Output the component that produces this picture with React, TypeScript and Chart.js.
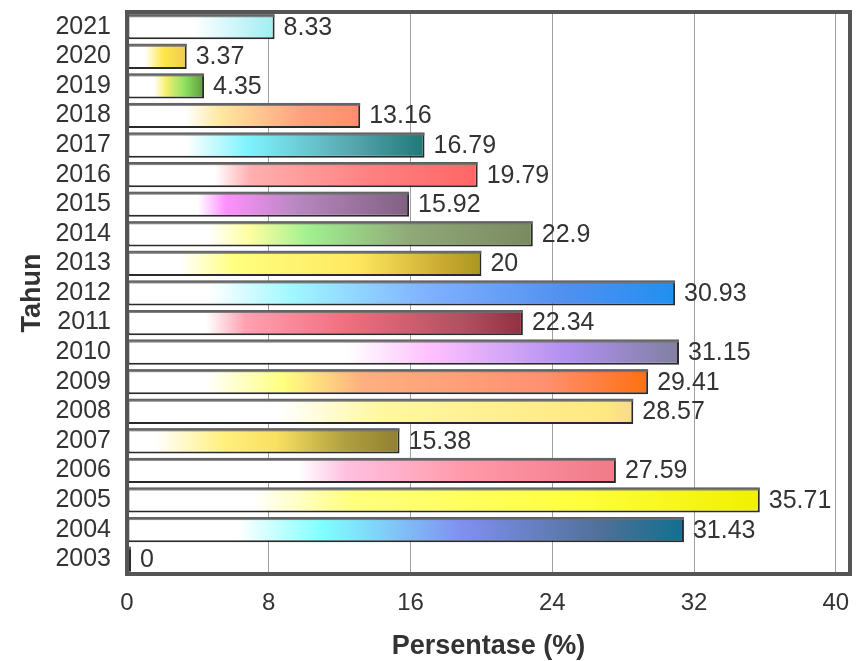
import { useEffect, useRef } from 'react';
import { Chart, registerables } from 'chart.js';

Chart.register(...registerables);

// ---- Data ----
const years = ['2003', '2004', '2005', '2006', '2007', '2008', '2009', '2010', '2011', '2012', '2013', '2014', '2015', '2016', '2017', '2018', '2019', '2020', '2021'];
const percentages = [0, 31.43, 35.71, 27.59, 15.38, 28.57, 29.41, 31.15, 22.34, 30.93, 20, 22.9, 15.92, 19.79, 16.79, 13.16, 4.35, 3.37, 8.33];
const xTickValues = [0, 8, 16, 24, 32, 40];
const xTitle = 'Persentase (%)';
const yTitle = 'Tahun';

// ---- Styles (gradient colour stops per bar, same order as years) ----
const barGradients: [number, string][][] = [
  [[0, '#777777'], [1, '#777777']],
  [[0, '#ffffff'], [0.2, '#ffffff'], [0.35, '#80ffff'], [0.6, '#8090f0'], [0.85, '#507098'], [1, '#107090']],
  [[0, '#ffffff'], [0.2, '#ffffff'], [0.35, '#ffff80'], [0.7, '#ffff40'], [1, '#f0f000']],
  [[0, '#ffffff'], [0.35, '#ffffff'], [0.45, '#ffc0e0'], [0.7, '#ff98a8'], [1, '#f07a88']],
  [[0, '#ffffff'], [0.1, '#ffffff'], [0.35, '#fff080'], [0.55, '#f8e060'], [0.8, '#b0a040'], [1, '#908030']],
  [[0, '#ffffff'], [0.3, '#ffffff'], [0.5, '#fff8a0'], [0.95, '#ffe880'], [1, '#f8d890']],
  [[0, '#ffffff'], [0.15, '#ffffff'], [0.3, '#ffff80'], [0.45, '#ffb080'], [0.8, '#ff9070'], [1, '#ff7010']],
  [[0, '#ffffff'], [0.4, '#ffffff'], [0.55, '#ffc0ff'], [0.8, '#b090f0'], [1, '#8080a0']],
  [[0, '#ffffff'], [0.2, '#ffffff'], [0.3, '#ffa0b0'], [0.55, '#f07080'], [0.85, '#b05060'], [1, '#903040']],
  [[0, '#ffffff'], [0.15, '#ffffff'], [0.3, '#a0f8ff'], [0.55, '#80b0ff'], [0.8, '#5090f0'], [1, '#2090f0']],
  [[0, '#ffffff'], [0.15, '#ffffff'], [0.3, '#ffff80'], [0.65, '#ffe860'], [0.9, '#c8a830'], [1, '#a89820']],
  [[0, '#ffffff'], [0.2, '#ffffff'], [0.3, '#ffffa0'], [0.45, '#a0f090'], [0.7, '#90a878'], [1, '#7a8a60']],
  [[0, '#ffffff'], [0.25, '#ffffff'], [0.35, '#ff90ff'], [0.6, '#b888c0'], [1, '#806080']],
  [[0, '#ffffff'], [0.25, '#ffffff'], [0.35, '#ffb0b0'], [0.7, '#ff8080'], [1, '#ff6666']],
  [[0, '#ffffff'], [0.2, '#ffffff'], [0.4, '#80f4ff'], [0.75, '#58a8b0'], [1, '#207878']],
  [[0, '#ffffff'], [0.25, '#ffffff'], [0.4, '#ffe8a0'], [0.75, '#ffa080'], [1, '#ff8c6c']],
  [[0, '#ffffff'], [0.35, '#ffffff'], [0.5, '#f8f070'], [0.75, '#8ee060'], [1, '#5c9a3c']],
  [[0, '#ffffff'], [0.3, '#ffffff'], [0.6, '#ffe84a'], [1, '#f0c850']],
  [[0, '#ffffff'], [0.45, '#ffffff'], [1, '#9eeef2']],
];

const FONT = "'Liberation Sans', Arial, sans-serif";
const TEXT = '#333333';

const framePlugin = {
  id: 'frame',
  afterDraw(chart: any) {
    const { ctx, chartArea } = chart;
    ctx.save();
    ctx.strokeStyle = '#555555';
    ctx.lineWidth = 4;
    ctx.strokeRect(chartArea.left, chartArea.top, chartArea.right - chartArea.left, chartArea.bottom - chartArea.top);
    ctx.restore();
  },
};

const barDecorPlugin = {
  id: 'barDecor',
  afterDatasetsDraw(chart: any) {
    const { ctx } = chart;
    const meta = chart.getDatasetMeta(0);
    ctx.save();
    meta.data.forEach((el: any, i: number) => {
      const p = el.getProps(['x', 'y', 'base', 'height'], true);
      const left = Math.min(p.base, p.x);
      const w = Math.abs(p.x - p.base);
      // grey bevel on top of each bar
      ctx.fillStyle = 'rgba(110,110,110,0.85)';
      ctx.fillRect(left, p.y - p.height / 2, w, 3);
      // value label
      ctx.fillStyle = TEXT;
      ctx.font = `25px ${FONT}`;
      ctx.textAlign = 'left';
      ctx.textBaseline = 'middle';
      ctx.fillText(String(percentages[i]), p.x + 9, p.y + 1);
    });
    ctx.restore();
  },
};

export default function App() {
  const canvasRef = useRef<HTMLCanvasElement | null>(null);

  useEffect(() => {
    document.body.style.margin = '0';
    const canvas = canvasRef.current;
    if (!canvas) return;
    const chart = new Chart(canvas, {
      type: 'bar',
      data: {
        labels: years,
        datasets: [
          {
            data: percentages,
            backgroundColor: (c: any) => {
              const ch = c.chart;
              const i = c.dataIndex;
              const stops = barGradients[i] || [[0, '#888'], [1, '#888']];
              if (!ch.chartArea || i === undefined) return stops[stops.length - 1][1];
              const x0 = ch.scales.x.getPixelForValue(0);
              const x1 = ch.scales.x.getPixelForValue(percentages[i]);
              if (x1 - x0 < 1) return stops[stops.length - 1][1];
              const g = ch.ctx.createLinearGradient(x0, 0, x1, 0);
              stops.forEach(([pos, col]) => g.addColorStop(pos, col));
              return g;
            },
            borderColor: '#2a2a2a',
            borderWidth: 2,
            borderSkipped: false,
            minBarLength: 4,
            barPercentage: 0.85,
            categoryPercentage: 1,
          },
        ],
      },
      options: {
        indexAxis: 'y',
        animation: false,
        responsive: true,
        maintainAspectRatio: false,
        layout: { padding: { left: 15, right: 11, top: 12, bottom: 1 } },
        plugins: {
          legend: { display: false },
          tooltip: { enabled: false },
        },
        scales: {
          x: {
            min: 0,
            max: 40.8,
            bounds: 'data',
            afterBuildTicks: (axis: any) => {
              axis.ticks = xTickValues.map((v) => ({ value: v }));
            },
            afterFit: (axis: any) => {
              axis.paddingLeft = 0;
              axis.paddingRight = 0;
              axis.height = 86;
            },
            ticks: {
              font: { family: FONT, size: 24 },
              color: TEXT,
              padding: 15,
              maxRotation: 0,
            },
            grid: { color: '#a0a0a0', lineWidth: 1, drawTicks: false },
            border: { display: false },
            title: {
              display: true,
              text: xTitle,
              color: TEXT,
              font: { family: FONT, size: 27, weight: 'bold', lineHeight: 1 },
              padding: { top: 0, bottom: 0 },
            },
          },
          y: {
            reverse: true,
            afterFit: (axis: any) => {
              axis.paddingTop = 0;
              axis.paddingBottom = 0;
              axis.width = 112;
            },
            ticks: {
              font: { family: FONT, size: 25 },
              color: TEXT,
              padding: 16,
              autoSkip: false,
            },
            grid: { display: false, drawTicks: false },
            border: { display: false },
            title: {
              display: true,
              text: yTitle,
              color: TEXT,
              font: { family: FONT, size: 27, weight: 'bold', lineHeight: 1 },
              padding: { top: 4, bottom: 4 },
            },
          },
        },
      },
      plugins: [framePlugin, barDecorPlugin],
    } as any);
    return () => chart.destroy();
  }, []);

  return (
    <div style={{ position: 'relative', width: 861, height: 661 }}>
      <canvas ref={canvasRef} />
    </div>
  );
}
